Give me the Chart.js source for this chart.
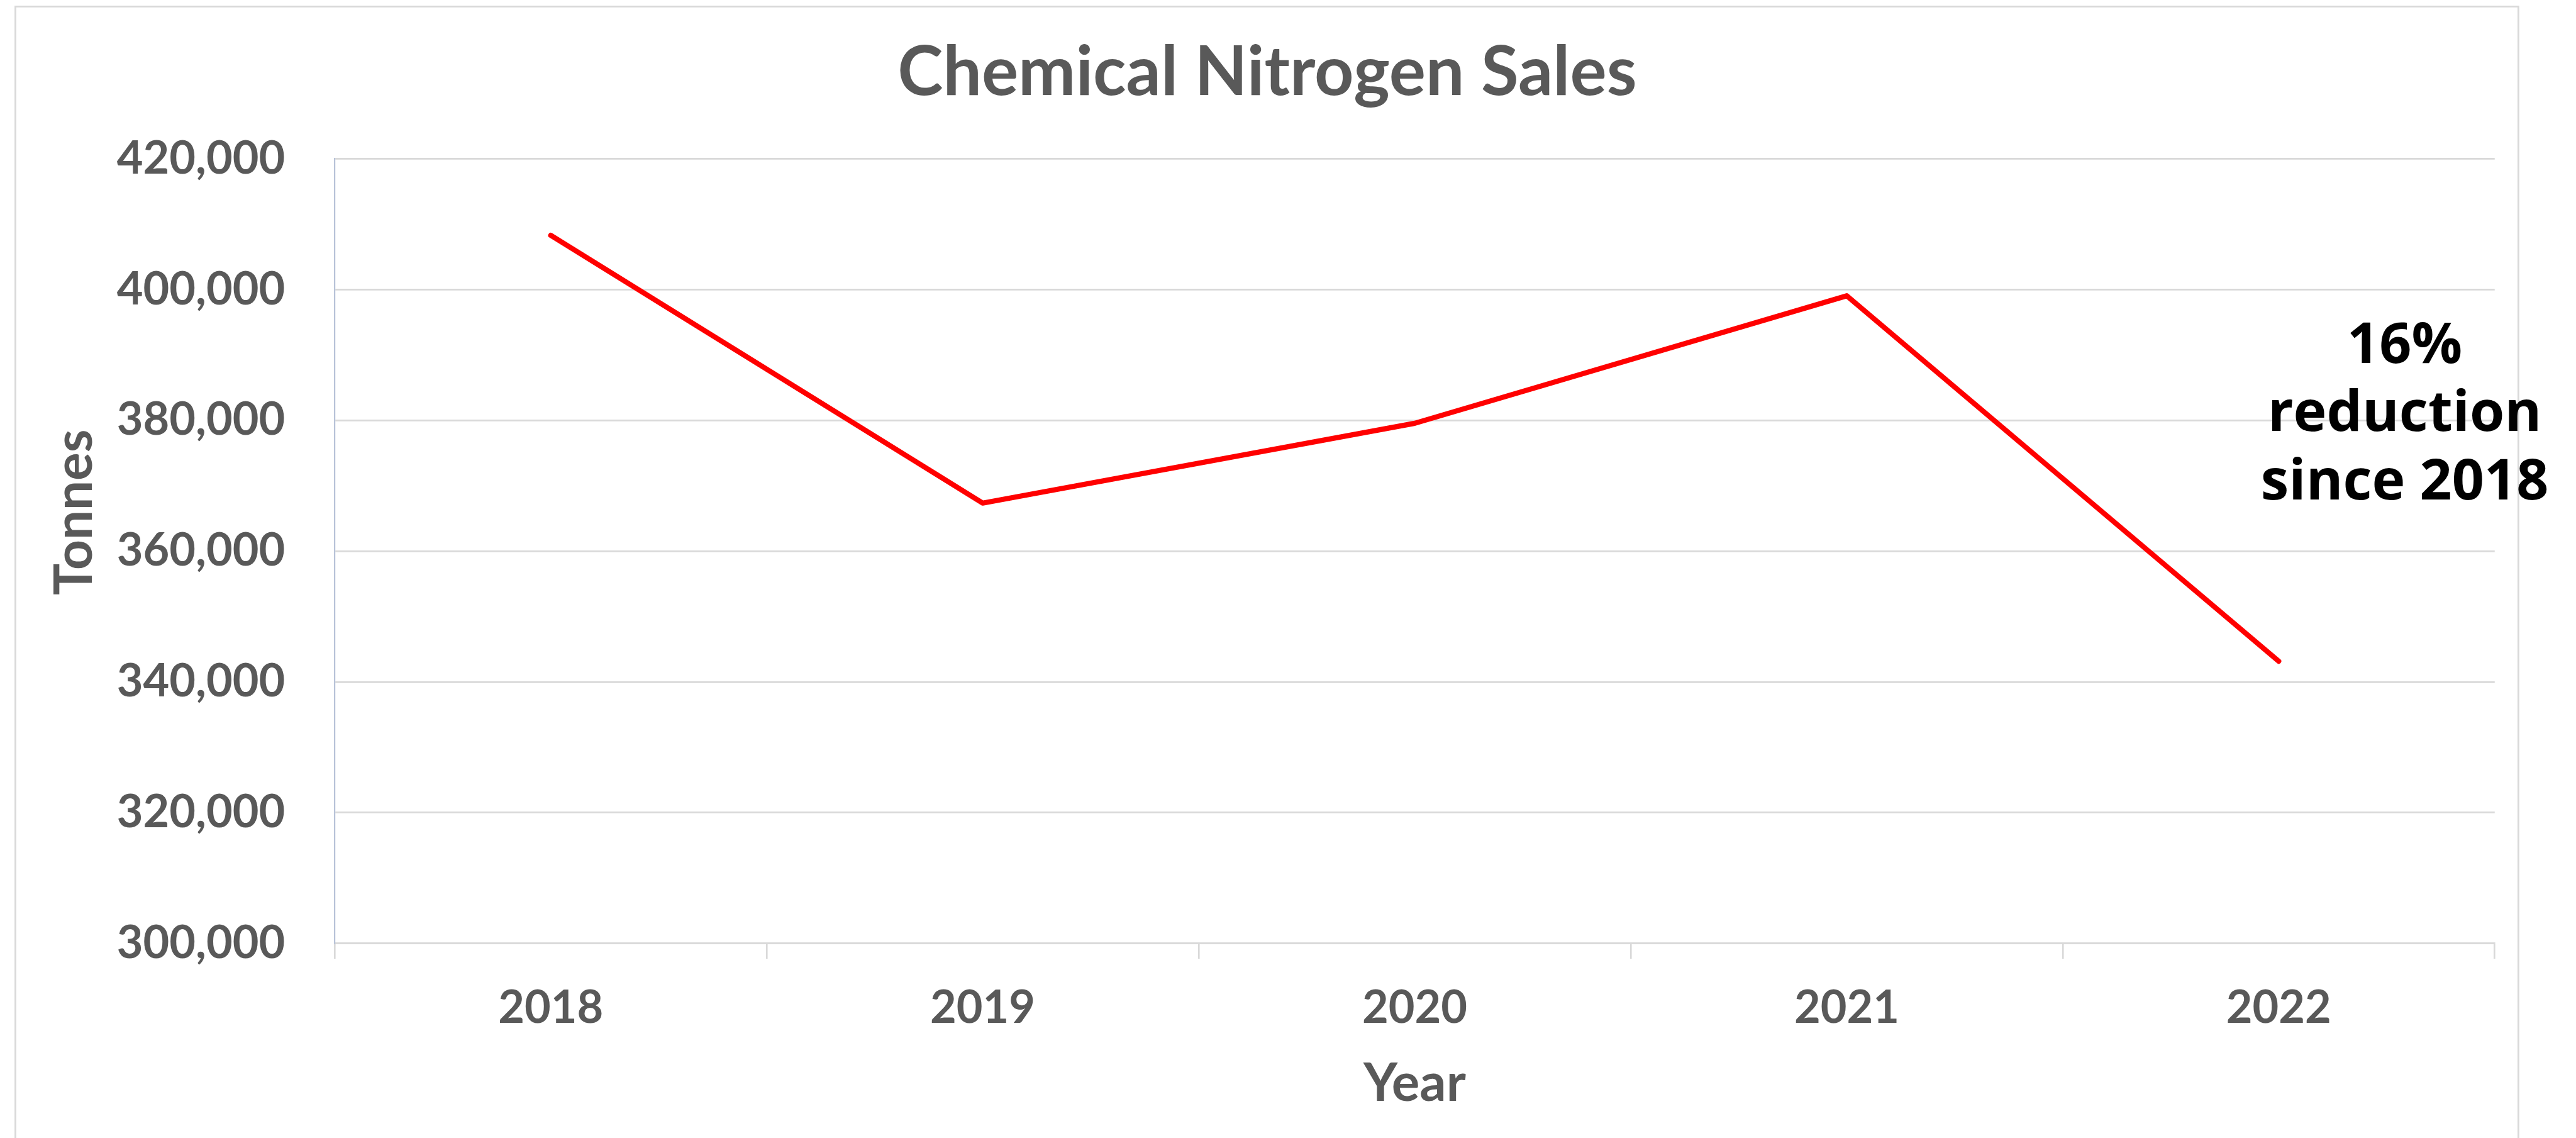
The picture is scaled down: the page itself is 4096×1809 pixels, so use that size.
<!DOCTYPE html>
<html>
<head>
<meta charset="utf-8">
<script src="https://cdn.jsdelivr.net/npm/chart.js@4.4.1/dist/chart.umd.min.js"></script>
<style>
  html, body { margin: 0; padding: 0; background: #ffffff; }
  #wrap { width: 4096px; height: 1809px; position: relative; }
  canvas { display: block; }
</style>
</head>
<body>
<div id="wrap"><canvas id="c" width="4096" height="1809"></canvas></div>
<script>
// ---- data ----
const categories = ['2018', '2019', '2020', '2021', '2022'];
const salesTonnes = [408300, 367350, 379550, 399050, 343150];
const yMin = 300000;
const yMax = 420000;
const yStep = 20000;
const chartTitle = 'Chemical Nitrogen Sales';
const xTitle = 'Year';
const yTitle = 'Tonnes';
const noteLines = ['16%', 'reduction', 'since 2018'];

// ---- styling / layout (scale 0.942 of reference) ----
const S = 0.942;
const GREY_TXT = '#595959';
const GRID = '#D9D9D9';
const CALIBRI_SUB = 'Lato, "Open Sans", sans-serif';

const plotLeft = 565 * S, plotRight = 4211 * S, plotTop = 268 * S, plotBottom = 1592 * S;

const decorPlugin = {
  id: 'decor',
  beforeDraw(chart) {
    const ctx = chart.ctx;
    ctx.save();
    ctx.fillStyle = '#ffffff';
    ctx.fillRect(0, 0, chart.width, chart.height);
    ctx.strokeStyle = GRID;
    ctx.lineWidth = 2.8;
    ctx.strokeRect(26 * S, 11 * S, (4251 - 26) * S, 1960 * S);
    ctx.restore();
  },
  afterDraw(chart) {
    const ctx = chart.ctx;
    const xs = chart.scales.x;
    ctx.save();
    // title
    ctx.fillStyle = GREY_TXT;
    ctx.font = 'bold 109px ' + CALIBRI_SUB;
    ctx.textAlign = 'center';
    ctx.textBaseline = 'alphabetic';
    ctx.fillText(chartTitle, 2139 * S, 160 * S);
    // x axis title
    ctx.font = 'bold 83.5px ' + CALIBRI_SUB;
    ctx.fillText(xTitle, (xs.left + xs.right) / 2, 1858 * S);
    // y axis title
    ctx.save();
    ctx.translate(126 * S, 864.5 * S);
    ctx.rotate(-Math.PI / 2);
    ctx.textBaseline = 'middle';
    ctx.fillText(yTitle, 0, 0);
    ctx.restore();
    // annotation
    ctx.fillStyle = '#000000';
    ctx.font = 'bold 89.5px "Open Sans", sans-serif';
    ctx.textAlign = 'center';
    ctx.textBaseline = 'alphabetic';
    const baselines = [612, 727, 843];
    noteLines.forEach((t, i) => ctx.fillText(t, 4059 * S, baselines[i] * S));
    ctx.restore();
  }
};

function build() {
  new Chart(document.getElementById('c'), {
    type: 'line',
    data: {
      labels: categories,
      datasets: [{
        label: 'Chemical Nitrogen Sales',
        data: salesTonnes,
        borderColor: '#FF0000',
        backgroundColor: '#FF0000',
        borderWidth: 8.2,
        borderCapStyle: 'round',
        borderJoinStyle: 'round',
        pointRadius: 0,
        pointHoverRadius: 0,
        tension: 0,
        fill: false
      }]
    },
    options: {
      responsive: false,
      devicePixelRatio: 1,
      animation: false,
      events: [],
      layout: { padding: { left: 0, right: 4096 - plotRight, top: plotTop, bottom: 0 } },
      plugins: {
        legend: { display: false },
        title: { display: false },
        tooltip: { enabled: false }
      },
      scales: {
        x: {
          type: 'category',
          offset: true,
          afterFit(scale) { scale.height = 1809 - plotBottom; },
          grid: {
            display: true,
            offset: true,
            drawOnChartArea: false,
            drawTicks: true,
            tickLength: 26 * S,
            color: GRID,
            lineWidth: 2.6
          },
          border: { display: true, color: GRID, width: 2.8 },
          ticks: {
            color: GREY_TXT,
            font: { family: CALIBRI_SUB, size: 72, weight: 'bold' },
            padding: 35,
            maxRotation: 0,
            minRotation: 0,
            autoSkip: false
          }
        },
        y: {
          min: yMin,
          max: yMax,
          afterFit(scale) { scale.width = plotLeft; },
          grid: {
            display: true,
            drawTicks: false,
            color: GRID,
            lineWidth: 2.8
          },
          border: { display: true, color: '#B8C3D8', width: 2.2 },
          ticks: {
            stepSize: yStep,
            color: GREY_TXT,
            font: { family: CALIBRI_SUB, size: 72, weight: 'bold' },
            padding: 79,
            callback: (v) => Number(v).toLocaleString('en-US')
          }
        }
      }
    },
    plugins: [decorPlugin]
  });
}

Promise.all([
  document.fonts.load('bold 72px Lato'),
  document.fonts.load('bold 89px "Open Sans"')
]).then(build, build);
</script>
</body>
</html>
